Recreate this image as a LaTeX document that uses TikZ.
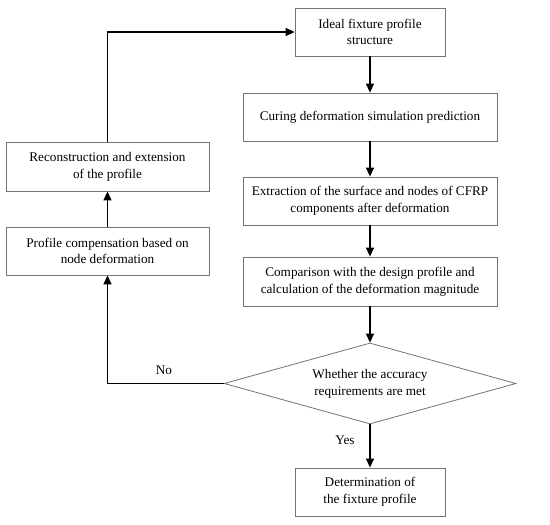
\documentclass[tikz,border=0pt]{standalone}
\usepackage{fontspec}
\setmainfont{Liberation Serif}
\usetikzlibrary{shapes.geometric,arrows.meta}
\begin{document}
\begin{tikzpicture}[x=1pt,y=-1pt,
  box/.style={draw=black!55,line width=0.8pt,rectangle,align=center,inner sep=0pt,font=\fontsize{13.2}{16.7}\selectfont},
  dec/.style={draw=black!55,line width=0.8pt,diamond,aspect=3.6,inner sep=0pt,align=center,minimum width=292pt,minimum height=81pt,font=\fontsize{13.2}{16.7}\selectfont},
  arr/.style={line width=1.3pt,-{Triangle[length=9pt,width=8pt]}},
  lbl/.style={font=\fontsize{13.2}{15}\selectfont,inner sep=0pt}]
\useasboundingbox (0,0) rectangle (550,525);
\node[box,minimum width=150pt,minimum height=48pt] (ideal) at (370,32) {Ideal fixture profile\\structure};
\node[box,minimum width=254pt,minimum height=48pt] (curing) at (370,117) {Curing deformation simulation prediction};
\node[box,minimum width=254pt,minimum height=48pt] (extract) at (370,201) {Extraction of the surface and nodes of CFRP\\components after deformation};
\node[box,minimum width=254pt,minimum height=49pt] (compare) at (370,281.5) {Comparison with the design profile and\\calculation of the deformation magnitude};
\node[dec] (dec) at (370,383.5) {Whether the accuracy\\requirements are met};
\node[box,minimum width=150pt,minimum height=48pt] (determ) at (370,492) {Determination of\\the fixture profile};
\node[box,minimum width=203pt,minimum height=49pt] (recon) at (107.5,166.5) {Reconstruction and extension\\of the profile};
\node[box,minimum width=203pt,minimum height=48pt] (comp) at (107.5,251) {Profile compensation based on\\node deformation};
\draw[arr] (ideal.south) -- (curing.north);
\draw[arr] (curing.south) -- (extract.north);
\draw[arr] (extract.south) -- (compare.north);
\draw[arr] (compare.south) -- (dec.north);
\draw[arr] (dec.south) -- (determ.north);
\draw[arr] (dec.west) -| (comp.south);
\draw[arr] (comp.north) -- (recon.south);
\draw[arr] (recon.north) |- (ideal.west);
\node[lbl] (no) at (164,370) {No};
\node[lbl] (yes) at (345,440) {Yes};
\end{tikzpicture}
\end{document}
